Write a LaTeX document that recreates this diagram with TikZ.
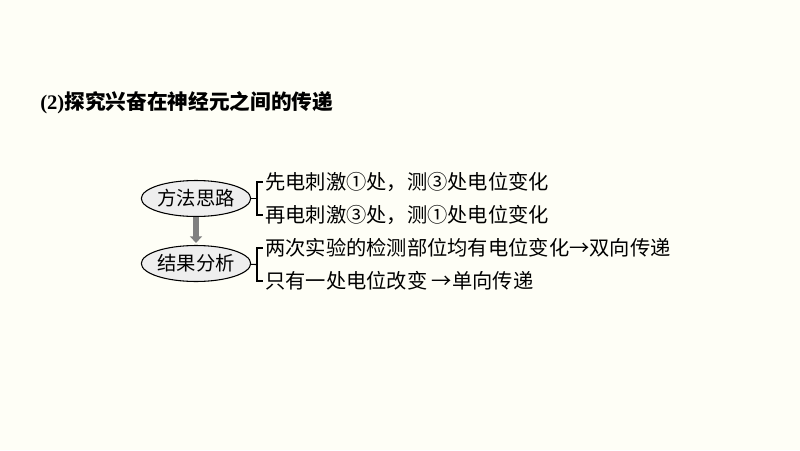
\documentclass[tikz,border=0pt]{standalone}
\usepackage{fontspec}
\setmainfont{Liberation Serif}
\newfontfamily\cjk{Noto Sans CJK SC}
\usetikzlibrary{shapes.geometric,arrows.meta}
\definecolor{paper}{RGB}{254,254,246}
\definecolor{oval}{RGB}{238,238,238}
\definecolor{shaft}{RGB}{128,128,128}
\tikzset{every node/.style={draw=none,inner sep=0pt},
  idea/.style={ellipse,draw,fill=oval,line width=0.8pt,minimum width=70pt,minimum height=27pt,font=\cjk\fontsize{14.5}{16}\selectfont},
  item/.style={anchor=west,inner xsep=1.5pt,font=\cjk\fontsize{15.2}{18}\selectfont}}

\begin{document}
\begin{tikzpicture}[x=0.75pt,y=-0.75pt]
      \fill[paper] (0,0) rectangle (800,450);
      \useasboundingbox (0,0) rectangle (800,450);
      \node[anchor=west,font=\bfseries\fontsize{15.5}{18}\selectfont] (title) at (40,103) {(2)\cjk 探究兴奋在神经元之间的传递};
      \node[idea] (m) at (196,198.5) {方法思路};
      \node[idea] (r) at (196,263.5) {结果分析};
      \node[item] (1) at (263,182) {先电刺激①处，测③处电位变化};
      \node[item] (2) at (263,215) {再电刺激③处，测①处电位变化};
      \node[item] (3) at (263,248) {两次实验的检测部位均有电位变化→双向传递};
      \node[item] (4) at (263,281) {只有一处电位改变 →单向传递};
      \coordinate (k) at (257,198.5);
      \coordinate (l) at (257,264.5);

\foreach \a/\b in {m/k,r/l}
  \draw[line width=0.8pt] (\a) -- (\b);
\foreach \a/\b in {k/1,k/2,l/3,l/4}
  \draw[line width=0.8pt] (\a) |- (\b.west);
\draw[shaft,line width=4.5pt,shorten >=1.5pt,-{Triangle[width=9pt,length=5pt]}] (m) -- (r);
    \end{tikzpicture}
\end{document}
